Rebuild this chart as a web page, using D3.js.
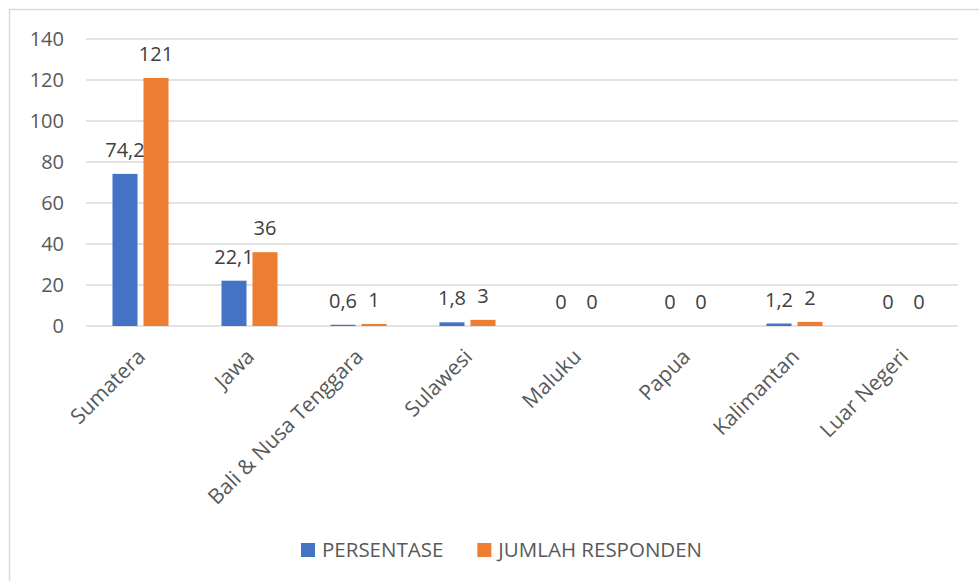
<!DOCTYPE html>
<html>
<head>
<meta charset="utf-8">
<script src="https://cdn.jsdelivr.net/npm/d3@7/dist/d3.min.js"></script>
<style>
  html, body { margin: 0; padding: 0; background: #fff; }
  svg { display: block; }
  text { font-family: "Open Sans", "Noto Sans", sans-serif; fill: #595959; }
  text.dl { fill: #404040; }
</style>
</head>
<body>
<svg id="chart" width="979" height="581"></svg>
<script>
// ---- data ----
const categories = ["Sumatera", "Jawa", "Bali & Nusa Tenggara", "Sulawesi", "Maluku", "Papua", "Kalimantan", "Luar Negeri"];
const seriesNames = ["PERSENTASE", "JUMLAH RESPONDEN"];
const persentase = [74.2, 22.1, 0.6, 1.8, 0, 0, 1.2, 0];
const jumlahResponden = [121, 36, 1, 3, 0, 0, 2, 0];
const persentaseLabels = ["74,2", "22,1", "0,6", "1,8", "0", "0", "1,2", "0"];
const jumlahLabels = ["121", "36", "1", "3", "0", "0", "2", "0"];
const yTicks = [0, 20, 40, 60, 80, 100, 120, 140];
const colors = ["#4472C4", "#ED7D31"];

const svg = d3.select("#chart");

// outer chart border
svg.append("rect").attr("x", 9.5).attr("y", 9.5).attr("width", 1000).attr("height", 1000)
  .attr("fill", "#fff").attr("stroke", "#D9D9D9").attr("stroke-width", 1.5);

const plot = { left: 86, right: 958, top: 39, bottom: 326 };

const x = d3.scaleBand().domain(categories).range([plot.left, plot.right]).paddingInner(0.486).paddingOuter(0.243);
const xs = d3.scaleBand().domain([0, 1]).range([0, x.bandwidth()]).paddingInner(0.1935);
const y = d3.scaleLinear().domain([0, 140]).range([plot.bottom, plot.top]);

// gridlines
svg.append("g").selectAll("line").data(yTicks).join("line")
  .attr("x1", plot.left).attr("x2", plot.right)
  .attr("y1", d => y(d)).attr("y2", d => y(d))
  .attr("stroke", "#D9D9D9").attr("stroke-width", 1.5);

// y tick labels
svg.append("g").selectAll("text").data(yTicks).join("text")
  .attr("x", 64).attr("y", d => y(d)).attr("dy", "0.36em")
  .attr("text-anchor", "end").attr("font-size", 20)
  .text(d => d);

const series = [persentase, jumlahResponden];
const labels = [persentaseLabels, jumlahLabels];

series.forEach((vals, si) => {
  svg.append("g").selectAll("rect").data(vals).join("rect")
    .attr("x", (d, i) => x(categories[i]) + xs(si))
    .attr("width", xs.bandwidth())
    .attr("y", d => y(d))
    .attr("height", d => y(0) - y(d))
    .attr("fill", colors[si]);
});
series.forEach((vals, si) => {
  svg.append("g").selectAll("text").data(vals).join("text")
    .attr("class", "dl")
    .attr("x", (d, i) => x(categories[i]) + xs(si) + xs.bandwidth() / 2)
    .attr("y", d => y(d) - 17)
    .attr("text-anchor", "middle").attr("font-size", 20)
    .text((d, i) => labels[si][i]);
});

// x axis labels (rotated)
svg.append("g").selectAll("text").data(categories).join("text")
  .attr("transform", d => `translate(${x(d) + x.bandwidth() / 2 + 6},${plot.bottom + 32}) rotate(-45)`)
  .attr("text-anchor", "end").attr("font-size", 21)
  .text(d => d);

// legend
const legend = svg.append("g");
let lx = 301;
seriesNames.forEach((name, i) => {
  legend.append("rect").attr("x", lx).attr("y", 543).attr("width", 14).attr("height", 14).attr("fill", colors[i]);
  const t = legend.append("text").attr("x", lx + 21).attr("y", 550).attr("dy", "0.36em")
    .attr("font-size", 20.5).text(name);
  lx = lx + 21 + t.node().getComputedTextLength() + 34;
});
</script>
</body>
</html>
